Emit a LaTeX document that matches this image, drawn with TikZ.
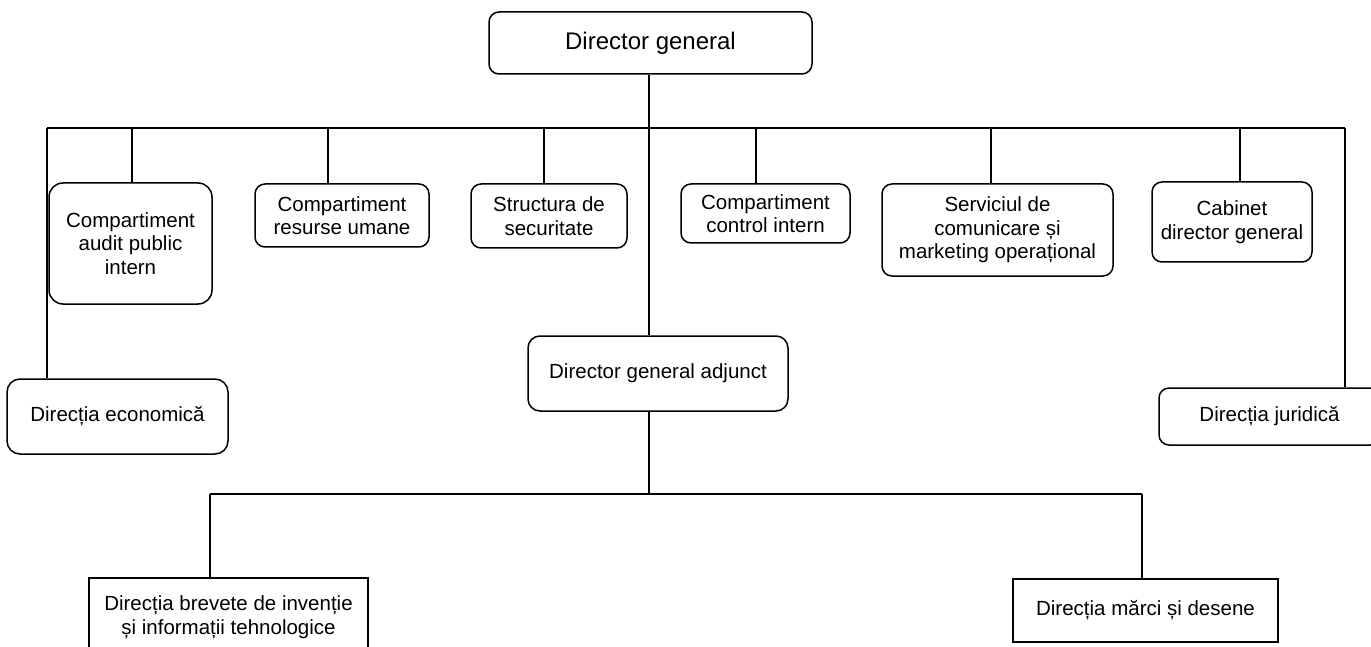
\documentclass[tikz,border=0pt]{standalone}
\usepackage{fontspec}
\setmainfont{Liberation Sans}
\begin{document}
\begin{tikzpicture}[x=1pt,y=-1pt,
  box/.style={draw, line width=1.5pt, rounded corners=10pt, align=center, inner sep=0pt,
    font=\fontsize{20.5}{23.5}\selectfont},
  sbox/.style={box, rounded corners=0pt},
  conn/.style={line width=1.5pt}]
\clip (0,0) rectangle (1371,647);
% nodes
\node[box, minimum width=323pt, minimum height=62pt, font=\fontsize{24}{28}\selectfont] (dg) at (650.5,43) {Director general};
\node[box, rounded corners=14pt, minimum width=163pt, minimum height=121pt] (audit) at (130.5,243.5) {Compartiment\\audit public\\intern};
\node[box, minimum width=174pt, minimum height=63pt] (res) at (342,215.5) {Compartiment\\resurse umane};
\node[box, minimum width=156pt, minimum height=64pt] (struct) at (549,216) {Structura de\\securitate};
\node[box, minimum width=169pt, minimum height=59pt] (ctrl) at (765.5,213.5) {Compartiment\\control intern};
\node[box, minimum width=231pt, minimum height=92pt] (serv) at (997.5,230) {Serviciul de\\comunicare și\\marketing operațional};
\node[box, minimum width=160pt, minimum height=80pt] (cab) at (1232,222) {Cabinet\\director general};
\node[box, rounded corners=13pt, minimum width=221pt, minimum height=75pt] (eco) at (117.5,416.5) {Direcția economică};
\node[box, rounded corners=12pt, minimum width=260pt, minimum height=75pt] (dga) at (658,373.5) {Director general adjunct};
\node[box, minimum width=221pt, minimum height=57pt] (jur) at (1269.5,416.5) {Direcția juridică};
\node[sbox, minimum width=279pt, minimum height=78pt] (brev) at (228.5,617) {Direcția brevete de invenție\\și informații tehnologice};
\node[sbox, minimum width=265pt, minimum height=63pt] (marci) at (1145.5,610.5) {Direcția mărci și desene};
% bus coordinates
\coordinate (busL) at (47,128);
\coordinate (busR) at (1345,128);
\coordinate (vx) at (649,128);
\coordinate (t1) at (132,128);
\coordinate (t2) at (328,128);
\coordinate (t3) at (544,128);
\coordinate (t4) at (756,128);
\coordinate (t5) at (991,128);
\coordinate (t6) at (1240,128);
\coordinate (lbL) at (210,494);
\coordinate (lbR) at (1142,494);
\coordinate (lbM) at (vx |- lbL);
% connectors
\draw[conn] (busL) -- (busR);
\draw[conn] (vx |- dg.south) -- (vx |- dga.north);
\draw[conn] (busL) -- (busL |- eco.north);
\draw[conn] (busR) -- (busR |- jur.north);
\draw[conn] (t1) -- (t1 |- audit.north);
\draw[conn] (t2) -- (t2 |- res.north);
\draw[conn] (t3) -- (t3 |- struct.north);
\draw[conn] (t4) -- (t4 |- ctrl.north);
\draw[conn] (t5) -- (t5 |- serv.north);
\draw[conn] (t6) -- (t6 |- cab.north);
\draw[conn] (vx |- dga.south) -- (lbM);
\draw[conn] (lbL) -- (lbR);
\draw[conn] (lbL) -- (lbL |- brev.north);
\draw[conn] (lbR) -- (lbR |- marci.north);
\end{tikzpicture}
\end{document}
